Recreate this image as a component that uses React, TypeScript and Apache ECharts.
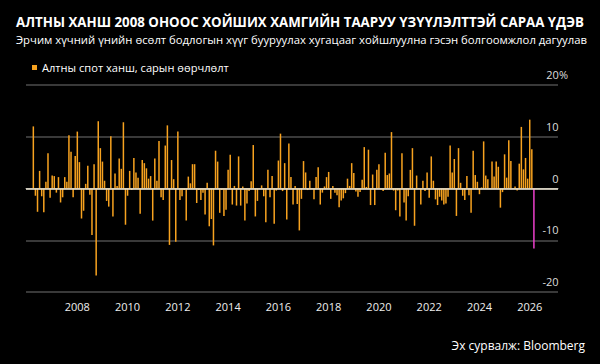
import React, { useEffect, useRef } from 'react';
import * as echarts from 'echarts';

// Monthly change of gold spot price, % (Apr 2006 .. Mar 2026)
const y2006 = [12.0, -1.4, -4.5, 3.4, -1.5, -4.6, 1.3, 6.8, -1.8];
const y2007 = [2.5, 2.4, -0.8, 2.2, -2.7, -1.7, 2.2, 1.3, 10.3, 7.1, -1.7, 6.3];
const y2008 = [11.0, 5.1, -5.8, -4.3, 0.9, 4.4, -1.2, -9.0, 4.7, -16.8, 13.0, 7.8];
const y2009 = [5.2, 1.5, -2.4, -3.5, 10.1, -5.4, 2.9, 0.5, 5.8, 3.8, 12.8, -7.0];
const y2010 = [-1.4, 3.4, -0.3, 5.9, 3.1, 2.1, -4.9, 5.5, 4.9, 3.9, 1.9, 2.4];
const y2011 = [-6.2, 5.8, 1.5, 9.2, -1.7, -2.2, 8.3, 12.2, -10.9, 5.5, 1.8, -10.3];
const y2012 = [11.0, -2.2, -1.5, -0.3, -6.2, 2.3, 1.0, 4.7, 4.7, -2.8, -0.3, -2.2];
const y2013 = [-0.8, -5.0, 1.1, -7.3, -5.9, -11.0, 7.3, 5.2, -4.7, -0.3, -5.3, -4.1];
const y2014 = [3.6, 6.5, -3.1, 0.5, -3.3, 6.2, -3.3, 0.4, -6.2, -2.9, -0.5, 1.4];
const y2015 = [8.4, -5.4, -2.4, 0.1, 0.6, -1.5, -6.5, 3.6, -1.7, 2.4, -6.8, -0.4];
const y2016 = [5.4, 10.6, -0.5, 4.9, -6.0, 8.7, 2.2, -3.1, 0.5, -3.0, -8.1, -2.0];
const y2017 = [5.3, 3.1, -0.3, 1.5, 0.1, -2.1, 2.2, 4.1, -3.1, -0.8, 0.4, 2.2];
const y2018 = [3.2, -2.0, 0.5, -0.8, -1.3, -3.6, -2.3, -1.9, -0.9, 1.9, 0.5, 4.9];
const y2019 = [3.0, -0.6, -1.6, -0.7, 1.7, 8.0, 0.3, 7.5, -3.2, 2.7, -3.2, 3.6];
const y2020 = [4.7, -0.2, -0.5, 6.9, 2.6, 2.9, 10.9, -0.4, -4.2, -0.4, -5.4, 6.8];
const y2021 = [-2.7, -6.2, -1.5, 3.6, 7.8, -7.2, 2.5, -0.1, -3.1, 1.5, -0.5, 3.1];
const y2022 = [-1.8, 6.2, 1.5, -2.1, -3.2, -1.6, -2.3, -3.1, -2.9, -1.6, 8.3, 3.1];
const y2023 = [5.7, -5.3, 7.8, 1.1, -1.4, -2.2, 2.4, -1.3, -4.7, 7.3, 2.6, 1.3];
const y2024 = [-1.1, 0.2, 9.1, 2.5, 1.8, 0.0, 5.2, 2.3, 5.2, 4.2, -3.7, -0.7];
const y2025 = [6.6, 2.1, 9.3, 5.3, 0.0, 0.4, -0.4, 4.8, 11.9, 3.7, 5.9, 1.9];
const y2026 = [13.3, 7.6, -11.6];

const monthlyChange = [
  ...y2006, ...y2007, ...y2008, ...y2009, ...y2010, ...y2011, ...y2012,
  ...y2013, ...y2014, ...y2015, ...y2016, ...y2017, ...y2018, ...y2019,
  ...y2020, ...y2021, ...y2022, ...y2023, ...y2024, ...y2025, ...y2026,
];

const axisStartYear = 2006;
const axisMonthCount = 254; // Jan 2006 .. Feb 2027
const firstDataMonth = 3; // April 2006
const yMin = -20;
const yMax = 20;
const yStep = 10;

const TITLE = 'АЛТНЫ ХАНШ 2008 ОНООС ХОЙШИХ ХАМГИЙН ТААРУУ ҮЗҮҮЛЭЛТТЭЙ САРАА ҮДЭВ';
const SUBTITLE = 'Эрчим хүчний үнийн өсөлт бодлогын хүүг бууруулах хугацааг хойшлуулна гэсэн болгоомжлол дагуулав';
const SERIES_NAME = 'Алтны спот ханш, сарын өөрчлөлт';
const SOURCE = 'Эх сурвалж: Bloomberg';

const ORANGE = '#f7a21f';
const MAGENTA = '#ea3fcb';
const FONT = 'Open Sans';

export default function App() {
  const ref = useRef<HTMLDivElement>(null);
  useEffect(() => {
    const chart = echarts.init(ref.current!, null, { renderer: 'svg' });
    const categories = Array.from({ length: axisMonthCount }, (_, i) => {
      const y = axisStartYear + Math.floor(i / 12);
      const m = (i % 12) + 1;
      return `${y}-${String(m).padStart(2, '0')}`;
    });
    const lastK = monthlyChange.length - 1;
    const data = categories.map((_, i) => {
      const k = i - firstDataMonth;
      if (k < 0 || k > lastK) return null;
      const v = monthlyChange[k];
      return k === lastK ? { value: v, itemStyle: { color: MAGENTA } } : v;
    });
    const isMajor = (i: number) => i > 0 && i % 24 === 0;
    const isYear = (i: number) => i > 0 && i % 12 === 0;

    chart.setOption({
      animation: false,
      backgroundColor: '#000',
      textStyle: { fontFamily: FONT },
      title: [
        {
          text: TITLE, left: 11, top: 10,
          textStyle: { color: '#fff', fontSize: 13.3, fontWeight: 'bold', fontFamily: FONT },
        },
        {
          text: SUBTITLE, left: 11, top: 29,
          textStyle: { color: '#fff', fontSize: 11.3, fontWeight: 'normal', fontFamily: FONT },
        },
        {
          text: SOURCE, right: 10, top: 334,
          textStyle: { color: '#fff', fontSize: 12, fontWeight: 'normal', fontFamily: FONT },
        },
      ],
      legend: {
        data: [SERIES_NAME], left: 27, top: 57, icon: 'rect', itemWidth: 5, itemHeight: 5,
        itemGap: 4,
        textStyle: { color: '#fff', fontSize: 11.1, fontFamily: FONT },
      },
      grid: { left: 26, right: 42, top: 85, bottom: 72 },
      xAxis: [
        {
          type: 'category', data: categories, position: 'bottom',
          axisLine: { lineStyle: { color: '#8c8c8c', width: 1.2 } },
          axisTick: { alignWithLabel: true, interval: (i: number) => isMajor(i), length: 5, lineStyle: { color: '#bbb' } },
          axisLabel: {
            interval: (i: number) => isMajor(i), formatter: (v: string) => v.slice(0, 4),
            color: '#eee', fontSize: 11, margin: 9, fontFamily: FONT,
          },
        },
        {
          type: 'category', data: categories, position: 'bottom', offset: 0,
          axisLine: { show: false },
          axisTick: { alignWithLabel: true, interval: (i: number) => isYear(i), length: 3, lineStyle: { color: '#999' } },
          axisLabel: { show: false },
        },
      ],
      yAxis: {
        type: 'value', position: 'right', min: yMin, max: yMax, interval: yStep,
        axisLine: { show: false }, axisTick: { show: false },
        splitLine: { lineStyle: { color: '#4d4d4d', width: 1.5 } },
        axisLabel: {
          inside: false, margin: 10, align: 'right', verticalAlign: 'bottom',
          color: '#ddd', fontSize: 11, fontFamily: FONT, padding: [0, 0, 5, 0],
          formatter: (v: number) => (v === yMax ? `${v}%` : `${v}{s| }`),
          rich: { s: { width: 9.5, fontSize: 11, fontFamily: FONT } },
        },
      },
      series: [
        {
          type: 'bar', name: SERIES_NAME, data, xAxisIndex: 0, barWidth: '72%',
          itemStyle: { color: ORANGE },
          markLine: {
            silent: true, symbol: 'none', label: { show: false },
            lineStyle: { color: '#e9e2cf', width: 1.5, type: 'solid' },
            data: [{ yAxis: 0 }],
          },
        },
      ],
    });
    return () => chart.dispose();
  }, []);
  return <div ref={ref} style={{ position: 'fixed', left: 0, top: 0, width: 600, height: 364 }} />;
}
